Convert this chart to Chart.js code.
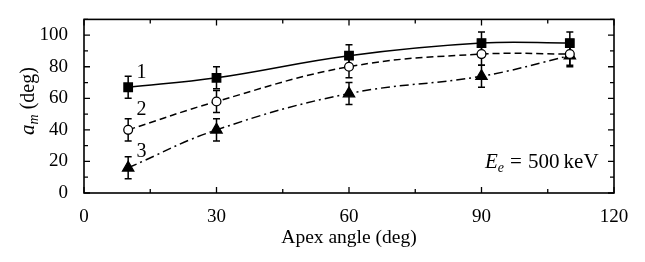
<!DOCTYPE html>
<html>
<head>
<meta charset="utf-8">
<script src="https://cdn.jsdelivr.net/npm/chart.js@4/dist/chart.umd.min.js"></script>
<style>
  html, body { margin: 0; padding: 0; background: #fff; }
  #wrap { width: 645px; height: 262px; position: relative; }
</style>
</head>
<body>
<div id="wrap"><canvas id="chart"></canvas></div>
<script>
// apex angle (deg)
const angles = [10, 30, 60, 90, 110];
// a_m (deg) for curves 1, 2, 3
const am1 = [67, 73, 87, 95, 95];
const am2 = [40, 58, 80, 88, 88];
const am3 = [16, 40, 63, 74, 87];
const err1 = [7, 7, 7, 7, 7];
const err2 = [7, 7, 7, 7, 7];
const err3 = [7, 7, 7, 7, 7];
const xTicks = [0, 30, 60, 90, 120];
const yTicks = [0, 20, 40, 60, 80, 100];
const xMinor = [15, 45, 75, 105];
const yMinor = [10, 30, 50, 70, 90, 110];
// curve labels: [text, x, y] in data units
const curveLabels = [['1', 13, 76], ['2', 13, 53], ['3', 13, 26]];

const SERIF = '"Liberation Serif", "DejaVu Serif", serif';

function pts(ys) { return angles.map((x, i) => ({ x, y: ys[i] })); }

const decor = {
  id: 'decor',
  beforeDatasetsDraw(c) {
    const { ctx } = c;
    const xs = c.scales.x, ys = c.scales.y;
    const errs = [err1, err2, err3];
    ctx.save();
    ctx.strokeStyle = '#000';
    ctx.lineWidth = 1.5;
    c.data.datasets.forEach((ds, k) => {
      ds.data.forEach((p, i) => {
        const px = xs.getPixelForValue(p.x);
        const top = ys.getPixelForValue(p.y + errs[k][i]);
        const bot = ys.getPixelForValue(p.y - errs[k][i]);
        ctx.beginPath();
        ctx.moveTo(px, top); ctx.lineTo(px, bot);
        ctx.moveTo(px - 3.5, top); ctx.lineTo(px + 3.5, top);
        ctx.moveTo(px - 3.5, bot); ctx.lineTo(px + 3.5, bot);
        ctx.stroke();
      });
    });
    ctx.restore();
  },
  afterDraw(c) {
    const { ctx, chartArea: a } = c;
    const xs = c.scales.x, ys = c.scales.y;
    ctx.save();
    ctx.strokeStyle = '#000';
    ctx.lineWidth = 1.6;
    ctx.strokeRect(a.left, a.top, a.right - a.left, a.bottom - a.top);

    // inward ticks on all four sides
    ctx.lineWidth = 1.3;
    ctx.beginPath();
    const tx = (v, len) => {
      const px = xs.getPixelForValue(v);
      ctx.moveTo(px, a.bottom); ctx.lineTo(px, a.bottom - len);
      ctx.moveTo(px, a.top); ctx.lineTo(px, a.top + len);
    };
    const ty = (v, len) => {
      const py = ys.getPixelForValue(v);
      ctx.moveTo(a.left, py); ctx.lineTo(a.left + len, py);
      ctx.moveTo(a.right, py); ctx.lineTo(a.right - len, py);
    };
    xTicks.forEach(v => tx(v, 6));
    xMinor.forEach(v => tx(v, 4));
    yTicks.forEach(v => ty(v, 6));
    yMinor.forEach(v => ty(v, 4));
    ctx.stroke();

    ctx.fillStyle = '#000';
    ctx.textAlign = 'center';
    ctx.textBaseline = 'middle';
    ctx.font = '20px ' + SERIF;
    curveLabels.forEach(([t, x, y]) => {
      ctx.fillText(t, xs.getPixelForValue(x), ys.getPixelForValue(y));
    });

    // x title
    ctx.textBaseline = 'alphabetic';
    ctx.font = '19.5px ' + SERIF;
    ctx.fillText('Apex angle (deg)', (a.left + a.right) / 2, 243);

    // energy note
    ctx.textAlign = 'left';
    let x = 485;
    const base = 168;
    ctx.font = 'italic 21px ' + SERIF;
    ctx.fillText('E', x, base);
    x += ctx.measureText('E').width;
    ctx.font = 'italic 14px ' + SERIF;
    ctx.fillText('e', x, base + 4);
    x += ctx.measureText('e').width + 6;
    ctx.font = '21px ' + SERIF;
    ctx.fillText('=', x, base);
    x += ctx.measureText('=').width + 6;
    ctx.fillText('500\u2009keV', x, base);

    // y title, rotated
    ctx.translate(34, 101);
    ctx.rotate(-Math.PI / 2);
    ctx.font = 'italic 21px ' + SERIF;
    const wA = ctx.measureText('a').width;
    ctx.font = 'italic 14px ' + SERIF;
    const wM = ctx.measureText('m').width;
    ctx.font = '20px ' + SERIF;
    const wD = ctx.measureText(' (deg)').width;
    let s = -(wA + wM + wD) / 2;
    ctx.font = 'italic 21px ' + SERIF;
    ctx.fillText('a', s, 0); s += wA;
    ctx.font = 'italic 14px ' + SERIF;
    ctx.fillText('m', s, 4); s += wM;
    ctx.font = '20px ' + SERIF;
    ctx.fillText(' (deg)', s, 0);
    ctx.restore();
  }
};

const base = { showLine: true, borderColor: '#000', borderWidth: 1.5, tension: 0.4,
  pointBorderColor: '#000', pointBorderWidth: 1.3, pointHoverRadius: 0 };

new Chart(document.getElementById('chart'), {
  type: 'scatter',
  data: {
    datasets: [
      { ...base, label: '1', data: pts(am1), pointStyle: 'rect', pointRadius: 6, pointBackgroundColor: '#000' },
      { ...base, label: '2', data: pts(am2), borderDash: [7, 4], pointStyle: 'circle', pointRadius: 4.4, pointBackgroundColor: '#fff' },
      { ...base, label: '3', data: pts(am3), borderDash: [9, 4, 2, 4], pointStyle: 'triangle', pointRadius: 6.5, pointBackgroundColor: '#000' }
    ]
  },
  options: {
    responsive: true,
    maintainAspectRatio: false,
    animation: false,
    events: [],
    layout: { padding: { left: 0, top: 1, right: 31, bottom: 0 } },
    plugins: { legend: { display: false }, tooltip: { enabled: false } },
    scales: {
      x: {
        type: 'linear', min: 0, max: 120,
        grid: { display: false },
        border: { display: false },
        afterBuildTicks: s => { s.ticks = xTicks.map(v => ({ value: v })); },
        afterFit: s => { s.height = 69; },
        ticks: { color: '#000', font: { family: SERIF, size: 19 }, padding: 5, maxRotation: 0 }
      },
      y: {
        type: 'linear', min: 0, max: 110,
        grid: { display: false },
        border: { display: false },
        afterBuildTicks: s => { s.ticks = yTicks.map(v => ({ value: v })); },
        afterFit: s => { s.width = 84; },
        ticks: { color: '#000', font: { family: SERIF, size: 19 }, padding: 8 }
      }
    }
  },
  plugins: [decor]
});
</script>
</body>
</html>
